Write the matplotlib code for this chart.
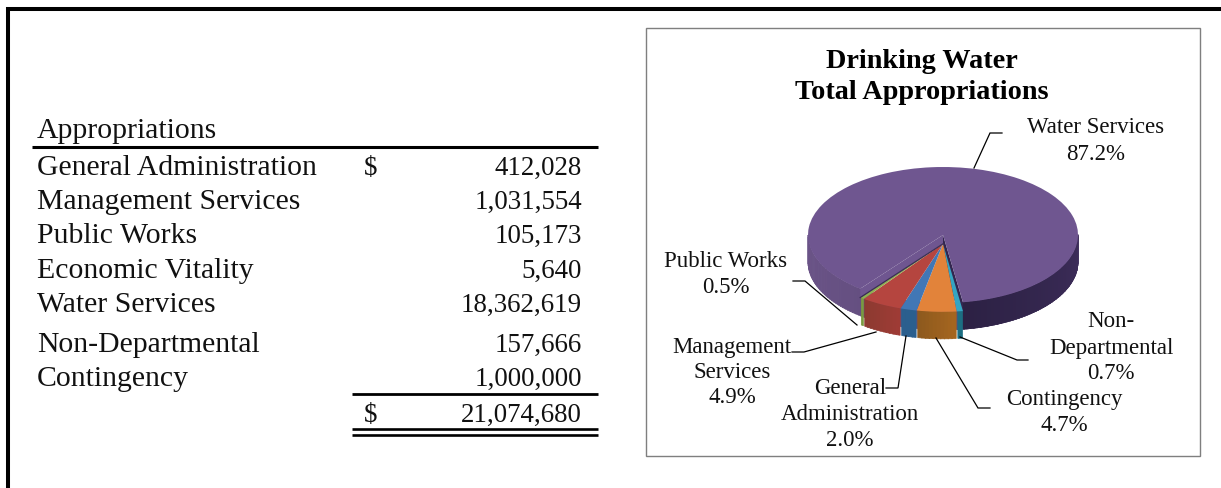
import numpy as np
import matplotlib
matplotlib.use("Agg")
import matplotlib.pyplot as plt
from matplotlib.colors import to_rgb
from matplotlib.patches import Rectangle

# ---- data ----
categories = ["General Administration", "Management Services", "Public Works",
              "Economic Vitality", "Water Services", "Non-Departmental", "Contingency"]
values = [412028, 1031554, 105173, 5640, 18362619, 157666, 1000000]
value_labels = ["412,028", "1,031,554", "105,173", "5,640", "18,362,619", "157,666", "1,000,000"]
total_label = "21,074,680"
table_title = "Appropriations"
chart_title = ["Drinking Water", "Total Appropriations"]
pie_order = ["Non-Departmental", "Contingency", "General Administration",
             "Management Services", "Public Works", "Economic Vitality", "Water Services"]
pie_labels = {"Water Services": ["Water Services", "87.2%"],
              "Public Works": ["Public Works", "0.5%"],
              "Management Services": ["Management", "Services", "4.9%"],
              "General Administration": ["General", "Administration", "2.0%"],
              "Contingency": ["Contingency", "4.7%"],
              "Non-Departmental": ["Non-", "Departmental", "0.7%"]}

# ---- style / layout ----
top_col = {"Non-Departmental": "#35A5C2", "Contingency": "#E2833A", "General Administration": "#4177B5",
           "Management Services": "#B5453F", "Public Works": "#8FB050", "Economic Vitality": "#3A2C55",
           "Water Services": "#6F5690"}
side_col = {"Non-Departmental": ("#1C6E82", "#1C6E82"), "Contingency": ("#8E5A1E", "#A4651F"),
            "General Administration": ("#2B5F8E", "#2B5F8E"),
            "Management Services": ("#8C3A30", "#9E3B35"), "Public Works": ("#7A9A40", "#7A9A40"),
            "Economic Vitality": ("#3A2C55", "#3A2C55")}
W, H = 1221, 489
row_base = [175, 209, 243, 278, 312, 352, 386]
FS = 21.4
FS_NUM = 19.4
TXT = "#111111"
plt.rcParams["font.family"] = "Liberation Serif"

fig = plt.figure(figsize=(W / 100, H / 100), dpi=100, facecolor="white")

# pie axes: pixels -> unit circle
PX0, PX1, PY0, PY1 = 780, 1106, 140, 372
CX, CY, RX, RY = 943, 236, 135, 68
pax = fig.add_axes([PX0 / W, 1 - PY1 / H, (PX1 - PX0) / W, (PY1 - PY0) / H], zorder=2)
by_name = dict(zip(categories, values))
pvals = [by_name[n] for n in pie_order]
START = 278.5
SHIFT = -0.13
DEPTH = 27 / RY

w1, _ = pax.pie(pvals, startangle=START, counterclock=False, colors=[top_col[n] for n in pie_order],
                center=(0, 0), radius=1)
w2, _ = pax.pie(pvals, startangle=START, counterclock=False, colors=[top_col[n] for n in pie_order],
                center=(0, SHIFT), radius=1)
pax.set_aspect("auto")
pax.set_xlim((PX0 - CX) / RX, (PX1 - CX) / RX)
pax.set_ylim((CY - PY1) / RY, (CY - PY0) / RY)
pax.axis("off")

fr = np.cumsum([0] + pvals) / sum(pvals) * 360
edges = START - fr  # descending angles


def mix(a, b, t):
    a, b = np.array(to_rgb(a)), np.array(to_rgb(b))
    return tuple(a + (b - a) * t)


def wall(a0, a1, cy, c0, c1, z):
    a0, a1 = max(a0, 180), min(a1, 360)
    if a1 <= a0:
        return
    n = max(int((a1 - a0) / 1.5), 1)
    ts = np.linspace(a0, a1, n + 1)
    for i in range(n):
        t = np.radians(ts[i:i + 2] + [0, 0.3])
        xs = np.cos(t)
        ys = np.sin(t) + cy
        col = mix(c0, c1, i / max(n - 1, 1))
        pax.fill([xs[0], xs[1], xs[1], xs[0]], [ys[0], ys[1], ys[1] - DEPTH, ys[0] - DEPTH],
                 facecolor=col, edgecolor=col, lw=0.5, zorder=z)


for i, n in enumerate(pie_order):
    hi, lo = edges[i], edges[i + 1]
    if n == "Water Services":
        wall(180, hi + 360, 0, "#6B5488", "#574470", 1)
        wall(edges[0], 360, 0, "#2C2144", "#3D2D5A", 1)
        w1[i].set_zorder(3)
        w1[i].set_edgecolor("none")
        w2[i].set_visible(False)
        # right cut face is dark, left gap continues the top colour
        a = np.radians(edges[0])
        pax.fill([0, np.cos(a), np.cos(a), 0], [0, np.sin(a), np.sin(a) - DEPTH, -DEPTH],
                 color="#33264F", lw=0, zorder=2)
        a = np.radians(hi)
        pax.fill([0, np.cos(a), np.cos(a), 0], [0, np.sin(a), np.sin(a) + SHIFT, SHIFT],
                 color=top_col[n], lw=0, zorder=2)
    else:
        w1[i].set_visible(False)
        w2[i].set_zorder(6)
        w2[i].set_edgecolor("none")
        wall(lo + 0.5, hi - 0.5, SHIFT, side_col[n][0], side_col[n][1], 5)
        if n == "Economic Vitality":
            a = np.radians(lo)
            pax.plot([0, np.cos(a)], [SHIFT, np.sin(a) + SHIFT], color="#3A2C55", lw=0.9, zorder=7)

# overlay axes in pixel coordinates
ax = fig.add_axes([0, 0, 1, 1], zorder=3)
ax.set_xlim(0, W)
ax.set_ylim(H, 0)
ax.axis("off")
ax.patch.set_alpha(0)

# frame
ax.plot([8, 8, W], [H, 10, 10], color="black", lw=2.9, solid_joinstyle="miter", solid_capstyle="butt")

# table
ax.text(37, 138, table_title, fontsize=FS, va="baseline", ha="left", color=TXT)
for y, c, v in zip(row_base, categories, value_labels):
    ax.text(37, y, c, fontsize=FS, va="baseline", ha="left", color=TXT)
    ax.text(582, y, v, fontsize=FS_NUM, va="baseline", ha="right", color=TXT)
ax.text(371, row_base[0], "$", fontsize=FS_NUM, va="baseline", ha="center", color=TXT)
ax.text(371, 421.5, "$", fontsize=FS_NUM, va="baseline", ha="center", color=TXT)
ax.text(582, 421.5, total_label, fontsize=FS_NUM, va="baseline", ha="right", color=TXT)
ax.plot([32, 598], [148, 148], color="black", lw=2.2, solid_capstyle="butt")
ax.plot([352, 598], [395.2, 395.2], color="black", lw=2.0, solid_capstyle="butt")
ax.plot([352, 598], [430.3, 430.3], color="black", lw=1.9, solid_capstyle="butt")
ax.plot([352, 598], [435.7, 435.7], color="black", lw=1.9, solid_capstyle="butt")

# chart box
ax.add_patch(Rectangle((645.5, 28.7), 554.5, 428.5, fill=False, edgecolor="#7F7F7F", lw=1.0))

# chart title
for t, y in zip(chart_title, [68, 99.3]):
    ax.text(922, y, t, fontsize=20.3, fontweight="bold", ha="center", va="baseline", color="black")

# pie labels
LFS = 16.5
lab_x = {"Water Services": 1096, "Public Works": 726, "Management Services": 732,
         "General Administration": 850, "Contingency": 1064.6, "Non-Departmental": 1111}
lab_base = {"Water Services": [133, 160], "Public Works": [267, 293],
            "Management Services": [353, 378, 403], "General Administration": [394, 420, 446],
            "Contingency": [405, 431], "Non-Departmental": [327, 354, 379]}
leaders = {"Water Services": ([974, 990, 1002], [169, 134, 134]),
           "Public Works": ([857, 805, 793], [326, 282, 282]),
           "Management Services": ([876, 804, 792], [333, 353, 353]),
           "General Administration": ([906, 898, 886], [337, 389, 389]),
           "Contingency": ([936, 978, 990], [339, 409, 409]),
           "Non-Departmental": ([960, 1017, 1028], [338, 361, 361])}
for n, lines in pie_labels.items():
    for line, y in zip(lines, lab_base[n]):
        ax.text(lab_x[n], y, line, fontsize=LFS, ha="center", va="baseline", color=TXT)
    ax.plot(*leaders[n], color="black", lw=0.9, solid_joinstyle="miter")

fig.savefig("out.png", dpi=100, facecolor="white")
